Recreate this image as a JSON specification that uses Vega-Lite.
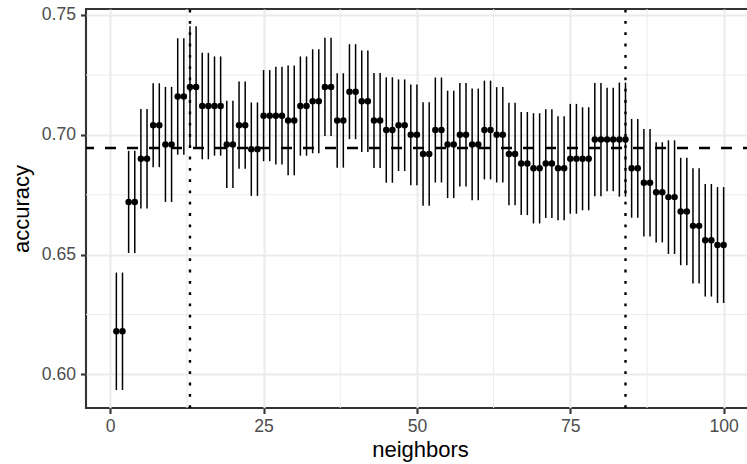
{
  "$schema": "https://vega.github.io/schema/vega-lite/v6.json",
  "width": 668,
  "height": 399,
  "autosize": {"type": "none"},
  "padding": {"left": 86, "top": 9, "right": 0, "bottom": 56},
  "background": "white",
  "config": {
    "font": "Liberation Sans",
    "view": {"stroke": "#333333", "strokeWidth": 2.1},
    "axis": {
      "domain": false,
      "grid": true,
      "gridColor": "#EBEBEB",
      "gridWidth": 2.1,
      "tickColor": "#333333",
      "tickWidth": 2.1,
      "tickSize": 5.5,
      "labelColor": "#4D4D4D",
      "labelFont": "Liberation Sans",
      "labelFontSize": 17.6,
      "titleFont": "Liberation Sans",
      "titleFontSize": 22,
      "titleFontWeight": "normal",
      "titleColor": "black"
    }
  },
  "datasets": {
    "tuning": [
      {"neighbors": 1, "mean": 0.618, "std_err": 0.0245},
      {"neighbors": 2, "mean": 0.618, "std_err": 0.0245},
      {"neighbors": 3, "mean": 0.672, "std_err": 0.0213},
      {"neighbors": 4, "mean": 0.672, "std_err": 0.0213},
      {"neighbors": 5, "mean": 0.690, "std_err": 0.0208},
      {"neighbors": 6, "mean": 0.690, "std_err": 0.0208},
      {"neighbors": 7, "mean": 0.704, "std_err": 0.0175},
      {"neighbors": 8, "mean": 0.704, "std_err": 0.0175},
      {"neighbors": 9, "mean": 0.696, "std_err": 0.0240},
      {"neighbors": 10, "mean": 0.696, "std_err": 0.0240},
      {"neighbors": 11, "mean": 0.716, "std_err": 0.0243},
      {"neighbors": 12, "mean": 0.716, "std_err": 0.0243},
      {"neighbors": 13, "mean": 0.720, "std_err": 0.0253},
      {"neighbors": 14, "mean": 0.720, "std_err": 0.0253},
      {"neighbors": 15, "mean": 0.712, "std_err": 0.0222},
      {"neighbors": 16, "mean": 0.712, "std_err": 0.0222},
      {"neighbors": 17, "mean": 0.712, "std_err": 0.0207},
      {"neighbors": 18, "mean": 0.712, "std_err": 0.0207},
      {"neighbors": 19, "mean": 0.696, "std_err": 0.0182},
      {"neighbors": 20, "mean": 0.696, "std_err": 0.0182},
      {"neighbors": 21, "mean": 0.704, "std_err": 0.0182},
      {"neighbors": 22, "mean": 0.704, "std_err": 0.0182},
      {"neighbors": 23, "mean": 0.694, "std_err": 0.0195},
      {"neighbors": 24, "mean": 0.694, "std_err": 0.0195},
      {"neighbors": 25, "mean": 0.708, "std_err": 0.0190},
      {"neighbors": 26, "mean": 0.708, "std_err": 0.0190},
      {"neighbors": 27, "mean": 0.708, "std_err": 0.0204},
      {"neighbors": 28, "mean": 0.708, "std_err": 0.0204},
      {"neighbors": 29, "mean": 0.706, "std_err": 0.0229},
      {"neighbors": 30, "mean": 0.706, "std_err": 0.0229},
      {"neighbors": 31, "mean": 0.712, "std_err": 0.0207},
      {"neighbors": 32, "mean": 0.712, "std_err": 0.0207},
      {"neighbors": 33, "mean": 0.714, "std_err": 0.0217},
      {"neighbors": 34, "mean": 0.714, "std_err": 0.0217},
      {"neighbors": 35, "mean": 0.720, "std_err": 0.0205},
      {"neighbors": 36, "mean": 0.720, "std_err": 0.0205},
      {"neighbors": 37, "mean": 0.706, "std_err": 0.0197},
      {"neighbors": 38, "mean": 0.706, "std_err": 0.0197},
      {"neighbors": 39, "mean": 0.718, "std_err": 0.0198},
      {"neighbors": 40, "mean": 0.718, "std_err": 0.0198},
      {"neighbors": 41, "mean": 0.714, "std_err": 0.0212},
      {"neighbors": 42, "mean": 0.714, "std_err": 0.0212},
      {"neighbors": 43, "mean": 0.706, "std_err": 0.0198},
      {"neighbors": 44, "mean": 0.706, "std_err": 0.0198},
      {"neighbors": 45, "mean": 0.702, "std_err": 0.0220},
      {"neighbors": 46, "mean": 0.702, "std_err": 0.0220},
      {"neighbors": 47, "mean": 0.704, "std_err": 0.0191},
      {"neighbors": 48, "mean": 0.704, "std_err": 0.0191},
      {"neighbors": 49, "mean": 0.700, "std_err": 0.0210},
      {"neighbors": 50, "mean": 0.700, "std_err": 0.0210},
      {"neighbors": 51, "mean": 0.692, "std_err": 0.0216},
      {"neighbors": 52, "mean": 0.692, "std_err": 0.0216},
      {"neighbors": 53, "mean": 0.702, "std_err": 0.0219},
      {"neighbors": 54, "mean": 0.702, "std_err": 0.0219},
      {"neighbors": 55, "mean": 0.696, "std_err": 0.0224},
      {"neighbors": 56, "mean": 0.696, "std_err": 0.0224},
      {"neighbors": 57, "mean": 0.700, "std_err": 0.0216},
      {"neighbors": 58, "mean": 0.700, "std_err": 0.0216},
      {"neighbors": 59, "mean": 0.696, "std_err": 0.0233},
      {"neighbors": 60, "mean": 0.696, "std_err": 0.0233},
      {"neighbors": 61, "mean": 0.702, "std_err": 0.0206},
      {"neighbors": 62, "mean": 0.702, "std_err": 0.0206},
      {"neighbors": 63, "mean": 0.700, "std_err": 0.0199},
      {"neighbors": 64, "mean": 0.700, "std_err": 0.0199},
      {"neighbors": 65, "mean": 0.692, "std_err": 0.0214},
      {"neighbors": 66, "mean": 0.692, "std_err": 0.0214},
      {"neighbors": 67, "mean": 0.688, "std_err": 0.0215},
      {"neighbors": 68, "mean": 0.688, "std_err": 0.0215},
      {"neighbors": 69, "mean": 0.686, "std_err": 0.0230},
      {"neighbors": 70, "mean": 0.686, "std_err": 0.0230},
      {"neighbors": 71, "mean": 0.688, "std_err": 0.0227},
      {"neighbors": 72, "mean": 0.688, "std_err": 0.0227},
      {"neighbors": 73, "mean": 0.686, "std_err": 0.0217},
      {"neighbors": 74, "mean": 0.686, "std_err": 0.0217},
      {"neighbors": 75, "mean": 0.690, "std_err": 0.0229},
      {"neighbors": 76, "mean": 0.690, "std_err": 0.0229},
      {"neighbors": 77, "mean": 0.690, "std_err": 0.0215},
      {"neighbors": 78, "mean": 0.690, "std_err": 0.0215},
      {"neighbors": 79, "mean": 0.698, "std_err": 0.0236},
      {"neighbors": 80, "mean": 0.698, "std_err": 0.0236},
      {"neighbors": 81, "mean": 0.698, "std_err": 0.0216},
      {"neighbors": 82, "mean": 0.698, "std_err": 0.0216},
      {"neighbors": 83, "mean": 0.698, "std_err": 0.0238},
      {"neighbors": 84, "mean": 0.698, "std_err": 0.0238},
      {"neighbors": 85, "mean": 0.686, "std_err": 0.0206},
      {"neighbors": 86, "mean": 0.686, "std_err": 0.0206},
      {"neighbors": 87, "mean": 0.680, "std_err": 0.0224},
      {"neighbors": 88, "mean": 0.680, "std_err": 0.0224},
      {"neighbors": 89, "mean": 0.676, "std_err": 0.0209},
      {"neighbors": 90, "mean": 0.676, "std_err": 0.0209},
      {"neighbors": 91, "mean": 0.674, "std_err": 0.0237},
      {"neighbors": 92, "mean": 0.674, "std_err": 0.0237},
      {"neighbors": 93, "mean": 0.668, "std_err": 0.0224},
      {"neighbors": 94, "mean": 0.668, "std_err": 0.0224},
      {"neighbors": 95, "mean": 0.662, "std_err": 0.0240},
      {"neighbors": 96, "mean": 0.662, "std_err": 0.0240},
      {"neighbors": 97, "mean": 0.656, "std_err": 0.0235},
      {"neighbors": 98, "mean": 0.656, "std_err": 0.0235},
      {"neighbors": 99, "mean": 0.654, "std_err": 0.0242},
      {"neighbors": 100, "mean": 0.654, "std_err": 0.0242}
    ],
    "minor_x": [
      {"neighbors": 12.5}, {"neighbors": 37.5}, {"neighbors": 62.5}, {"neighbors": 87.5}
    ],
    "minor_y": [
      {"mean": 0.625}, {"mean": 0.675}, {"mean": 0.725}
    ],
    "reference": [
      {"mean": 0.6945}
    ],
    "selected_k": [
      {"neighbors": 13}, {"neighbors": 84}
    ]
  },
  "layer": [
    {
      "data": {"name": "minor_x"},
      "mark": {"type": "rule", "color": "#EBEBEB", "strokeWidth": 1.05},
      "encoding": {
        "x": {"field": "neighbors", "type": "quantitative", "title": "neighbors"}
      }
    },
    {
      "data": {"name": "minor_y"},
      "mark": {"type": "rule", "color": "#EBEBEB", "strokeWidth": 1.05},
      "encoding": {
        "y": {"field": "mean", "type": "quantitative", "title": "accuracy"}
      }
    },
    {
      "data": {"name": "tuning"},
      "mark": {"type": "errorbar", "color": "black", "thickness": 1.5},
      "encoding": {
        "x": {
          "field": "neighbors", "type": "quantitative", "title": "neighbors",
          "scale": {"domain": [-3.95, 104.95], "nice": false, "zero": false},
          "axis": {"values": [0, 25, 50, 75, 100], "labelPadding": 4, "titlePadding": 4, "labelFlush": false}
        },
        "y": {
          "field": "mean", "type": "quantitative", "title": "accuracy",
          "scale": {"domain": [0.586, 0.7525], "nice": false, "zero": false},
          "axis": {"values": [0.6, 0.65, 0.7, 0.75], "format": ".2f", "labelPadding": 5, "titlePadding": 8}
        },
        "yError": {"field": "std_err"}
      }
    },
    {
      "data": {"name": "tuning"},
      "mark": {"type": "circle", "color": "black", "opacity": 1, "size": 42},
      "encoding": {
        "x": {"field": "neighbors", "type": "quantitative", "title": "neighbors"},
        "y": {"field": "mean", "type": "quantitative", "title": "accuracy"}
      }
    },
    {
      "data": {"name": "reference"},
      "mark": {"type": "rule", "color": "black", "strokeWidth": 2.3, "strokeDash": [11, 11]},
      "encoding": {
        "y": {"field": "mean", "type": "quantitative", "title": "accuracy"}
      }
    },
    {
      "data": {"name": "selected_k"},
      "mark": {"type": "rule", "color": "black", "strokeWidth": 2.4, "strokeDash": [2.8, 8.5]},
      "encoding": {
        "x": {"field": "neighbors", "type": "quantitative", "title": "neighbors"},
        "y": {"datum": 0.586},
        "y2": {"datum": 0.7525}
      }
    }
  ]
}
